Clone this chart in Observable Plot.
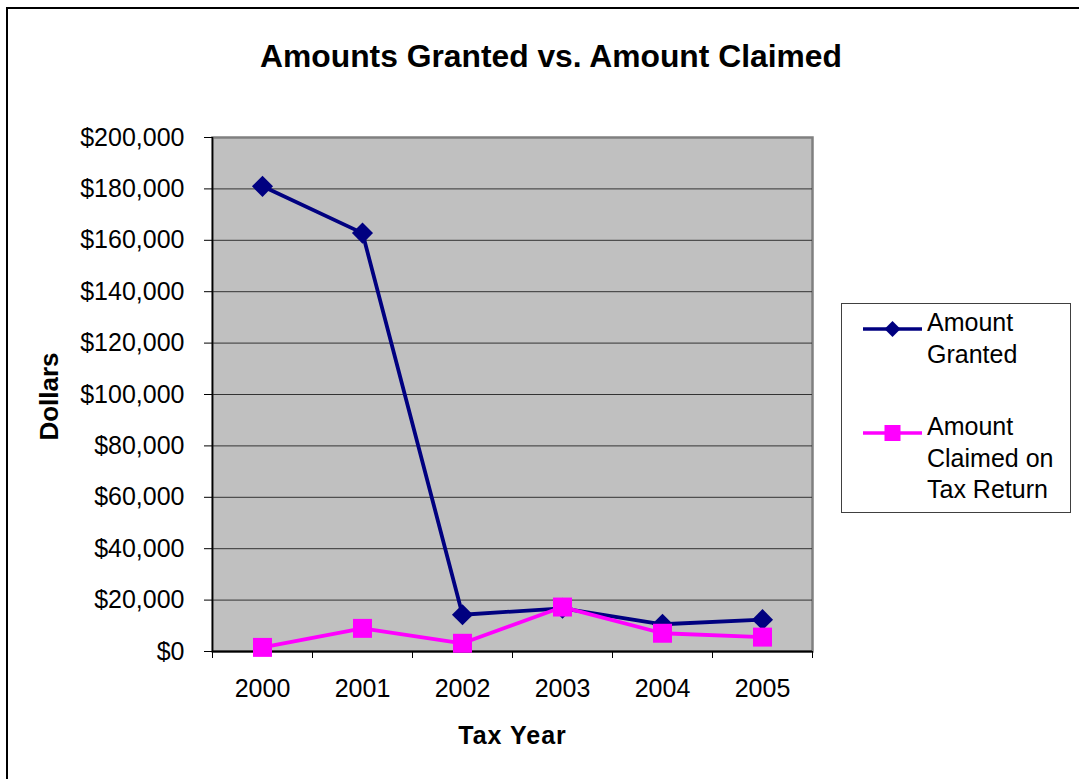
<!DOCTYPE html>
<html>
<head>
<meta charset="utf-8">
<script src="https://cdn.jsdelivr.net/npm/d3@7"></script>
<script src="https://cdn.jsdelivr.net/npm/@observablehq/plot@0.6"></script>
<style>
  html, body { margin: 0; padding: 0; background: #fff; }
  #wrap { position: relative; width: 1079px; height: 779px; overflow: hidden; font-family: "Liberation Sans", Arial, sans-serif; }
  #border { position: absolute; left: 6px; top: 7px; width: 1200px; height: 900px; border-left: 2.5px solid #000; border-top: 2.5px solid #000; box-sizing: border-box; pointer-events: none; }
  #title { position: absolute; left: 0; top: 41px; width: 1102px; text-align: center; font-size: 31.8px; line-height: 31px; font-weight: bold; color: #000; }
  #legend { position: absolute; left: 841px; top: 303px; width: 230px; height: 210px; border: 1px solid #404040; box-sizing: border-box; background: #fff; }
  .lg-text { position: absolute; left: 85px; font-size: 25px; line-height: 31.5px; color: #000; white-space: nowrap; }
  .lg-sw { position: absolute; left: 21px; width: 60px; height: 24px; }
  #chart svg { display: block; }
</style>
</head>
<body>
<div id="wrap">
  <div id="chart"></div>
  <div id="border"></div>
  <div id="title">Amounts Granted vs. Amount Claimed</div>
  <div id="legend"></div>
</div>
<script>
const years = [2000, 2001, 2002, 2003, 2004, 2005];
const granted = [181000, 162800, 14300, 16800, 10600, 12400];
const claimed = [1600, 9000, 3200, 17300, 7100, 5600];
const yTicks = [0, 20000, 40000, 60000, 80000, 100000, 120000, 140000, 160000, 180000, 200000];
const xBoundaries = [1999.5, 2000.5, 2001.5, 2002.5, 2003.5, 2004.5, 2005.5];
const seriesNames = ["Amount Granted", "Amount Claimed on Tax Return"];
const navy = "#000080";
const magenta = "#ff00ff";

const grantedRows = years.map((y, i) => ({year: y, value: granted[i]}));
const claimedRows = years.map((y, i) => ({year: y, value: claimed[i]}));
const fmt = d3.format(",");

const chart = Plot.plot({
  width: 1079,
  height: 779,
  marginLeft: 212,
  marginRight: 267,
  marginTop: 137,
  marginBottom: 128,
  style: {fontFamily: "Liberation Sans, Arial, sans-serif", color: "#000", background: "transparent"},
  x: {type: "linear", domain: [1999.5, 2005.5]},
  y: {domain: [0, 200000]},
  marks: [
    Plot.frame({fill: "#c0c0c0", stroke: "#808080", strokeWidth: 2.5}),
    Plot.gridY(yTicks.slice(1, -1), {stroke: "#333", strokeOpacity: 1, strokeWidth: 1}),
    Plot.ruleX([1999.5], {stroke: "#000", strokeWidth: 1.5}),
    Plot.ruleY([0], {stroke: "#000", strokeWidth: 2}),
    Plot.line(grantedRows, {x: "year", y: "value", stroke: navy, strokeWidth: 3.8}),
    Plot.dot(grantedRows, {x: "year", y: "value", symbol: "diamond2", fill: navy, r: 9.5}),
    Plot.line(claimedRows, {x: "year", y: "value", stroke: magenta, strokeWidth: 3.8}),
    Plot.dot(claimedRows, {x: "year", y: "value", symbol: "square", fill: magenta, r: 10.7}),
    Plot.axisY({ticks: yTicks, tickSize: 8, tickPadding: 20, fontSize: 25, tickFormat: d => "$" + fmt(d), label: null, stroke: "#000"}),
    Plot.axisX({ticks: xBoundaries, tickSize: 7, tickFormat: () => "", label: null, stroke: "#000"}),
    Plot.axisX({ticks: years, tickSize: 0, tickPadding: 28, fontSize: 25, tickFormat: d3.format("d"), label: null}),
    Plot.text(["Dollars"], {frameAnchor: "left", dx: -163, dy: 2, rotate: -90, textAnchor: "middle", lineAnchor: "middle", fontSize: 26, fontWeight: "bold", fill: "#000"}),
    Plot.text(["Tax Year"], {frameAnchor: "bottom", dy: 84, textAnchor: "middle", lineAnchor: "middle", fontSize: 25, fontWeight: "bold", fill: "#000"})
  ]
});
document.getElementById("chart").appendChild(chart);
d3.select(chart).selectAll("text").filter(function() { return this.textContent === "Tax Year"; }).style("letter-spacing", "1px");

// Legend
const legend = document.getElementById("legend");
const groups = [
  {lines: ["Amount", "Granted"], top: 3, color: navy, symbol: "diamond"},
  {lines: ["Amount", "Claimed on", "Tax Return"], top: 107, color: magenta, symbol: "square"}
];
groups.forEach(g => {
  const t = document.createElement("div");
  t.className = "lg-text";
  t.style.top = g.top + "px";
  t.innerHTML = g.lines.join("<br>");
  legend.appendChild(t);
  const sw = document.createElementNS("http://www.w3.org/2000/svg", "svg");
  sw.setAttribute("class", "lg-sw");
  sw.setAttribute("width", 60);
  sw.setAttribute("height", 24);
  sw.style.top = (g.top + 10) + "px";
  const s = d3.select(sw);
  s.append("line").attr("x1", 0).attr("x2", 59).attr("y1", 12).attr("y2", 12).attr("stroke", g.color).attr("stroke-width", 3.5);
  if (g.symbol === "diamond") {
    s.append("path").attr("d", "M29.5,4L37.5,12L29.5,20L21.5,12Z").attr("fill", g.color);
  } else {
    s.append("rect").attr("x", 21.5).attr("y", 4).attr("width", 16).attr("height", 16).attr("fill", g.color);
  }
  legend.appendChild(sw);
});
</script>
</body>
</html>
